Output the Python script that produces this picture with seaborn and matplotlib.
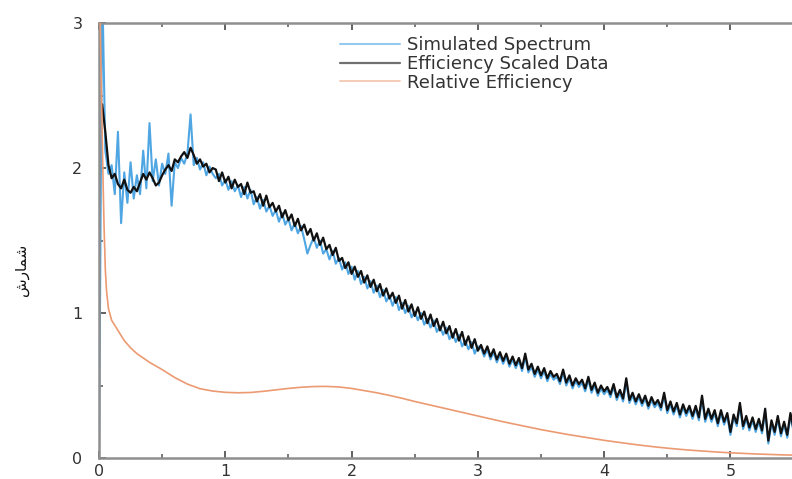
import numpy as np
import pandas as pd
import matplotlib
matplotlib.use("Agg")
import matplotlib.pyplot as plt
import seaborn as sns
from matplotlib.ticker import MultipleLocator

# ---------------- data ----------------
series_names = ["Simulated Spectrum", "Efficiency Scaled Data", "Relative Efficiency"]
y_label = "\ufeb5\ufead\ufe8e\ufee4\ufeb7"   # شمارش in visual (shaped) order
x_ticks = [0, 1, 2, 3, 4, 5]
y_ticks = [0, 1, 2, 3]

step = 0.025
energy_sim = np.round(np.arange(0, 221) * step, 3)        # 0 .. 5.5
energy_eff = np.round(np.arange(1, 221) * step, 3)        # 0.025 .. 5.5

simulated = [0.00,
 3.30, 2.12, 1.96, 2.02,  1.82, 2.25, 1.62, 1.97,  1.76, 2.04, 1.79, 1.95,
 1.82, 2.12, 1.86, 2.31,  1.91, 2.06, 1.88, 2.03,  1.96, 2.10, 1.74, 2.04,
 2.00, 2.07, 2.03, 2.10,  2.37, 2.02, 2.07, 1.99,  2.04, 1.95, 2.01, 1.96,
 1.93, 1.96, 1.88, 1.92,  1.85, 1.91, 1.84, 1.88,  1.80, 1.87, 1.79, 1.85,
 1.75, 1.80, 1.72, 1.78,  1.70, 1.74, 1.67, 1.71,  1.63, 1.69, 1.61, 1.65,
 1.57, 1.62, 1.55, 1.60,  1.51, 1.41, 1.47, 1.52,  1.45, 1.50, 1.41, 1.44,
 1.37, 1.43, 1.34, 1.38,  1.30, 1.35, 1.27, 1.32,  1.23, 1.29, 1.20, 1.25,
 1.17, 1.22, 1.14, 1.19,  1.11, 1.16, 1.08, 1.12,  1.05, 1.11, 1.02, 1.07,
 1.00, 1.05, 0.97, 1.01,  0.95, 1.00, 0.92, 0.96,  0.90, 0.95, 0.87, 0.91,
 0.85, 0.90, 0.82, 0.86,  0.80, 0.85, 0.77, 0.81,  0.75, 0.80, 0.72, 0.77,
 0.76, 0.70, 0.75, 0.68,  0.73, 0.66, 0.71, 0.65,  0.70, 0.63, 0.68, 0.62,
 0.67, 0.60, 0.70, 0.59,  0.63, 0.56, 0.61, 0.55,  0.60, 0.53, 0.58, 0.54,
 0.56, 0.51, 0.59, 0.50,  0.55, 0.48, 0.53, 0.49,  0.52, 0.46, 0.54, 0.45,
 0.50, 0.43, 0.48, 0.44,  0.47, 0.42, 0.49, 0.40,  0.45, 0.39, 0.53, 0.38,
 0.43, 0.37, 0.42, 0.36,  0.41, 0.34, 0.40, 0.35,  0.38, 0.33, 0.43, 0.31,
 0.37, 0.30, 0.36, 0.28,  0.35, 0.29, 0.34, 0.27,  0.34, 0.26, 0.41, 0.25,
 0.32, 0.25, 0.31, 0.22,  0.31, 0.23, 0.29, 0.16,  0.28, 0.22, 0.36, 0.20,
 0.27, 0.19, 0.26, 0.18,  0.25, 0.17, 0.32, 0.10,  0.24, 0.16, 0.27, 0.15,
 0.23, 0.14, 0.29, 0.18]

efficiency_scaled = [
 2.44, 2.25, 2.02, 1.93,  1.96, 1.89, 1.86, 1.92,  1.85, 1.83, 1.87, 1.84,
 1.90, 1.96, 1.92, 1.97,  1.93, 1.88, 1.90, 1.95,  1.99, 2.02, 1.98, 2.06,
 2.04, 2.08, 2.11, 2.07,  2.14, 2.09, 2.03, 2.06,  2.01, 2.03, 1.97, 2.00,
 1.99, 1.91, 1.97, 1.90,  1.94, 1.86, 1.92, 1.87,  1.89, 1.82, 1.90, 1.83,
 1.84, 1.77, 1.82, 1.74,  1.81, 1.73, 1.76, 1.70,  1.74, 1.66, 1.71, 1.64,
 1.68, 1.60, 1.65, 1.57,  1.61, 1.54, 1.58, 1.50,  1.55, 1.47, 1.52, 1.44,
 1.47, 1.40, 1.45, 1.36,  1.38, 1.31, 1.35, 1.27,  1.32, 1.25, 1.29, 1.21,
 1.26, 1.18, 1.23, 1.15,  1.20, 1.12, 1.17, 1.10,  1.14, 1.07, 1.12, 1.03,
 1.09, 1.01, 1.06, 0.98,  1.04, 0.96, 1.01, 0.93,  0.99, 0.91, 0.96, 0.88,
 0.94, 0.86, 0.91, 0.83,  0.89, 0.81, 0.87, 0.78,  0.84, 0.76, 0.82, 0.74,
 0.78, 0.72, 0.77, 0.70,  0.75, 0.68, 0.73, 0.67,  0.72, 0.65, 0.70, 0.64,
 0.69, 0.62, 0.72, 0.61,  0.65, 0.58, 0.63, 0.57,  0.62, 0.55, 0.60, 0.56,
 0.58, 0.53, 0.61, 0.52,  0.57, 0.50, 0.55, 0.51,  0.54, 0.48, 0.56, 0.47,
 0.52, 0.45, 0.50, 0.46,  0.49, 0.44, 0.51, 0.42,  0.47, 0.41, 0.55, 0.40,
 0.45, 0.39, 0.44, 0.38,  0.43, 0.36, 0.42, 0.37,  0.40, 0.35, 0.45, 0.33,
 0.39, 0.32, 0.38, 0.30,  0.37, 0.31, 0.36, 0.29,  0.36, 0.28, 0.43, 0.27,
 0.34, 0.27, 0.33, 0.24,  0.33, 0.25, 0.31, 0.18,  0.30, 0.24, 0.38, 0.22,
 0.29, 0.21, 0.28, 0.20,  0.27, 0.19, 0.34, 0.12,  0.26, 0.18, 0.29, 0.17,
 0.25, 0.16, 0.31, 0.20]

energy_rel = [0.0, 0.01, 0.02, 0.03, 0.04, 0.05, 0.06, 0.075, 0.1, 0.15, 0.2, 0.25,
              0.3, 0.4, 0.5, 0.6, 0.7, 0.8, 0.9, 1.0, 1.1, 1.2, 1.3, 1.4, 1.5,
              1.6, 1.7, 1.8, 1.9, 2.0, 2.1, 2.2, 2.3, 2.4, 2.5, 2.6, 2.7, 2.8,
              2.9, 3.0, 3.1, 3.2, 3.3, 3.4, 3.5, 3.6, 3.7, 3.8, 3.9, 4.0, 4.1,
              4.2, 4.3, 4.4, 4.5, 4.6, 4.7, 4.8, 4.9, 5.0, 5.1, 5.2, 5.3, 5.4, 5.5]
relative_eff = [3.6, 3.0, 2.5, 2.0, 1.6, 1.3, 1.15, 1.03, 0.95, 0.88, 0.81, 0.76,
                0.72, 0.66, 0.61, 0.555, 0.51, 0.478, 0.462, 0.453, 0.45, 0.452,
                0.46, 0.47, 0.48, 0.488, 0.493, 0.494, 0.49, 0.48, 0.465, 0.45,
                0.432, 0.412, 0.39, 0.37, 0.35, 0.33, 0.31, 0.29, 0.27, 0.25,
                0.232, 0.214, 0.196, 0.18, 0.164, 0.15, 0.136, 0.122, 0.11,
                0.098, 0.087, 0.077, 0.068, 0.06, 0.053, 0.047, 0.041, 0.036,
                0.032, 0.028, 0.025, 0.022, 0.02]

colors = ["#4fa6e3", "#111111", "#eb9a72"]

df_sim = pd.DataFrame({"E": energy_sim, "v": simulated})
df_eff = pd.DataFrame({"E": energy_eff, "v": efficiency_scaled})
df_rel = pd.DataFrame({"E": energy_rel, "v": relative_eff})

# ---------------- figure ----------------
sns.set_theme(style="ticks")
plt.rcParams["font.family"] = ["DejaVu Sans"]

fig = plt.figure(figsize=(7.92, 4.79), dpi=100)
ax = fig.add_axes([0.125, 0.0438, 0.877, 0.908])

sns.lineplot(data=df_sim, x="E", y="v", ax=ax, color=colors[0], lw=1.5,
             label=series_names[0], zorder=2, sort=False, estimator=None)
sns.lineplot(data=df_eff, x="E", y="v", ax=ax, color=colors[1], lw=1.6,
             label=series_names[1], zorder=3, sort=False, estimator=None)
sns.lineplot(data=df_rel, x="E", y="v", ax=ax, color=colors[2], lw=1.2,
             label=series_names[2], zorder=4, sort=False, estimator=None)

ax.set_xlim(0, 5.5)
ax.set_ylim(0, 3)
ax.set_xticks(x_ticks)
ax.set_yticks(y_ticks)
ax.xaxis.set_minor_locator(MultipleLocator(0.5))
ax.yaxis.set_minor_locator(MultipleLocator(0.5))
ax.set_xlabel("")
ax.set_ylabel("")
for s in ax.spines.values():
    s.set_color("#8f8f8f")
    s.set_linewidth(1.8)
ax.spines["right"].set_visible(False)
ax.tick_params(which="both", direction="in", top=True, right=False,
               colors="#555555", labelcolor="#333333", labelsize=11.5)
ax.tick_params(which="major", length=5, width=1.3)
ax.tick_params(which="minor", length=3, width=1.1)
ax.tick_params(axis="y", pad=12)
ax.tick_params(axis="x", pad=4)

leg = ax.legend(loc="upper left", bbox_to_anchor=(340 / 792, 1 - 36 / 479),
                bbox_transform=fig.transFigure, frameon=False, fontsize=13,
                handlelength=3.3, handletextpad=0.4, labelspacing=0.05,
                borderaxespad=0, borderpad=0)
for t in leg.get_texts():
    t.set_color("#333333")
for h in leg.get_lines():
    h.set_alpha(0.6)

fig.text(22 / 792, 1 - 270 / 479, y_label, rotation=90, ha="center", va="center",
         fontsize=11, color="#111111", family=["DejaVu Sans"])

fig.savefig("out.png", dpi=100)
